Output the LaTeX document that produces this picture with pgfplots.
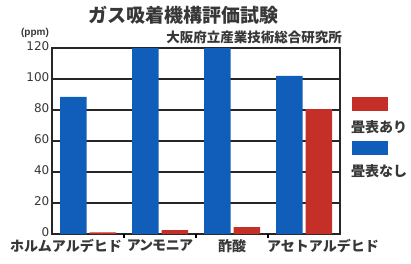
\documentclass[border=0pt]{standalone}
\usepackage{fontspec}
\setmainfont{Liberation Sans}
\newfontfamily\cjk{Noto Sans CJK JP}
\newfontfamily\cjkp{Noto Sans CJK JP}[RawFeature=+palt]
\newfontfamily\num{DejaVu Sans}
\usepackage{pgfplots}
\pgfplotsset{compat=1.18}
\definecolor{barblue}{RGB}{16,94,186}
\definecolor{barred}{RGB}{196,48,40}
\definecolor{txt}{RGB}{55,55,55}
\begin{document}
\begin{tikzpicture}[x=1pt,y=1pt]
\useasboundingbox (0,0) rectangle (411,263);
\begin{axis}[
  at={(52pt,29pt)}, anchor=south west,
  scale only axis, width=288pt, height=186pt,
  xmin=-0.5, xmax=3.5, ymin=0, ymax=120,
  xtick={0,1,2,3},
  xticklabels={{ホルムアルデヒド\rule{44pt}{0pt}},{\cjkp\bfseries アンモニア},{酢酸},{\rule{38pt}{0pt}アセトアルデヒド}},
  xticklabel style={font=\cjk\bfseries\fontsize{14}{14}\selectfont, text=txt, yshift=-5pt, inner sep=0pt},
  ytick={0,20,...,120},
  yticklabel style={font=\num\fontsize{12}{12}\selectfont, text=txt, xshift=-2pt, yshift=2pt, inner sep=0.5pt},
  /pgf/number format/assume math mode=true,
  major tick length=0pt,
  xtick pos=bottom, ytick pos=left,
  extra x ticks={0.5,1.5,2.5},
  extra x tick labels={},
  extra x tick style={major tick length=4pt, tick style={line width=1.5pt, black}},
  ymajorgrids, grid style={black!85, line width=1.2pt},
  axis line style={line width=1.4pt, black!85},
  ybar, bar width=26.5pt,
  clip=true,
]
\addplot[fill=barblue, draw=none, bar shift=-14.75pt] coordinates {(0,88.4) (1,130) (2,130) (3,102)};
\addplot[fill=barred, draw=none, bar shift=14.75pt] coordinates {(0,1) (1,2.5) (2,4.5) (3,80.6)};
\end{axis}
% legend
\fill[barred] (352,152) rectangle (388,166);
\node[anchor=west, inner sep=0pt, text=txt, font=\cjk\bfseries\fontsize{14}{14}\selectfont] at (351,136) {畳表あり};
\fill[barblue] (352,108) rectangle (388,122);
\node[anchor=west, inner sep=0pt, text=txt, font=\cjk\bfseries\fontsize{14}{14}\selectfont] at (351,92) {畳表なし};
% titles
\node[inner sep=0pt, text=txt, font=\cjk\bfseries\fontsize{19}{19}\selectfont] at (183,248) {ガス吸着機構評価試験};
\node[anchor=east, inner sep=0pt, text=txt, font=\cjk\bfseries\fontsize{13.5}{13.5}\selectfont] at (342,226) {大阪府立産業技術総合研究所};
\node[inner sep=0pt, text=txt, font=\bfseries\fontsize{10}{10}\selectfont] at (35,230) {(ppm)};
\end{tikzpicture}
\end{document}
